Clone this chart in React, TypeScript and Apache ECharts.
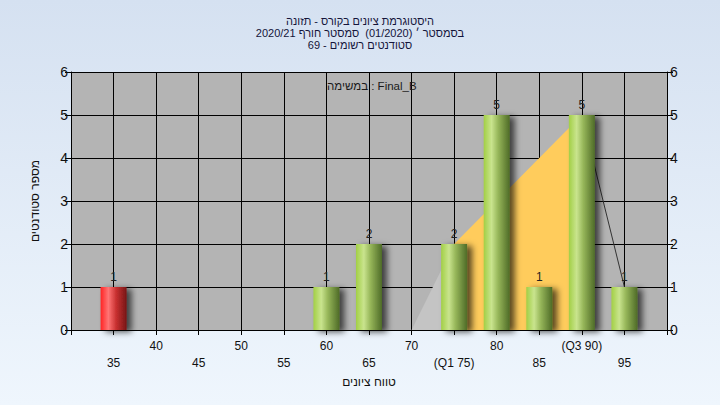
import React, { useEffect, useRef } from "react";
import * as echarts from "echarts";

const titleLines = [
  "היסטוגרמת ציונים בקורס - תזונה",
  "בסמסטר ׳ (01/2020)  סמסטר חורף 2020/21",
  "סטודנטים רשומים - 69",
];
const legendText = "במשימה : Final_B";
const xName = "טווח ציונים";
const yName = "מספר סטודנטים";

const failGrades = [35];
const failCounts = [1];
const passGrades = [60, 65, 75, 80, 85, 90, 95];
const passCounts = [1, 2, 2, 5, 1, 5, 1];

const lowTail = [[70, 0], [75, 2]];
const quartileBand = [[75, 2], [90, 5]];
const highTail = [[90, 5], [95, 1]];

const tickLabels: Record<number, string> = { 75: "(Q1 75)", 90: "(Q3 90)" };

const FONT = "'Liberation Sans Narrow', 'Arial Narrow', 'Liberation Sans', sans-serif";

export default function App() {
  const ref = useRef<HTMLDivElement>(null);
  useEffect(() => {
    document.body.style.margin = "0";
    const chart = echarts.init(ref.current!, null, { renderer: "svg" });
    const green = new echarts.graphic.LinearGradient(0, 0, 1, 0, [
      { offset: 0, color: "#a2cf45" },
      { offset: 0.3, color: "#c9e48e" },
      { offset: 0.55, color: "#97b75a" },
      { offset: 1, color: "#4e6b27" },
    ]);
    const red = new echarts.graphic.LinearGradient(0, 0, 1, 0, [
      { offset: 0, color: "#ff2424" },
      { offset: 0.3, color: "#ff7575" },
      { offset: 0.6, color: "#c83030" },
      { offset: 1, color: "#761515" },
    ]);
    const barData = [
      ...failGrades.map((g, i) => ({ value: [g, failCounts[i]], itemStyle: { color: red } })),
      ...passGrades.map((g, i) => ({ value: [g, passCounts[i]], itemStyle: { color: green } })),
    ];
    const yAxisBase = {
      type: "value",
      min: 0,
      max: 6,
      interval: 1,
      axisLine: { show: true, lineStyle: { color: "#000", width: 1 } },
      axisTick: { show: true, length: 6, lineStyle: { color: "#000" } },
      axisLabel: { color: "#111", fontSize: 14, fontFamily: FONT, margin: 3 },
    };
    chart.setOption({
      animation: false,
      backgroundColor: new echarts.graphic.LinearGradient(0, 0, 0, 1, [
        { offset: 0, color: "#d5e1f1" },
        { offset: 1, color: "#eff6fd" },
      ]),
      textStyle: { fontFamily: FONT },
      title: {
        text: titleLines.join("\n"),
        left: "center",
        top: 10,
        textStyle: { fontSize: 11, lineHeight: 12, fontWeight: "normal", color: "#14143a", fontFamily: FONT },
      },
      grid: { left: 71, right: 53, top: 72, bottom: 75, show: true, backgroundColor: "#b4b4b4", borderWidth: 0 },
      xAxis: {
        type: "value",
        min: 30,
        max: 100,
        interval: 5,
        name: xName,
        nameLocation: "middle",
        nameGap: 44,
        nameTextStyle: { fontSize: 12, color: "#111", fontFamily: FONT },
        axisLine: { show: true, lineStyle: { color: "#000", width: 1 } },
        axisTick: { show: true, length: 5, lineStyle: { color: "#000" } },
        splitLine: { show: true, lineStyle: { color: "#000", width: 1 } },
        axisLabel: {
          color: "#111",
          fontSize: 12,
          lineHeight: 17,
          fontFamily: FONT,
          margin: 7,
          formatter: (v: number) => {
            if (v <= 30 || v >= 100) return "";
            const t = tickLabels[v] ?? String(v);
            return (v / 5) % 2 === 1 ? "\n" + t : t;
          },
        },
      },
      yAxis: [
        {
          ...yAxisBase,
          position: "left",
          name: yName,
          nameLocation: "middle",
          nameRotate: 90,
          nameGap: 30,
          nameTextStyle: { fontSize: 12, color: "#111", fontFamily: FONT },
          splitLine: { show: true, lineStyle: { color: "#000", width: 1 } },
        },
        { ...yAxisBase, position: "right", splitLine: { show: false } },
      ],
      graphic: [
        {
          type: "text",
          left: 327,
          top: 80,
          style: { text: legendText, fontSize: 11.5, fill: "#1a1a1a", fontFamily: FONT },
          z: 100,
        },
      ],
      series: [
        {
          type: "line",
          data: lowTail,
          symbol: "none",
          lineStyle: { width: 0 },
          areaStyle: { color: "#c4c4c4", opacity: 1 },
          z: 1,
        },
        {
          type: "line",
          data: quartileBand,
          symbol: "none",
          lineStyle: { width: 0 },
          areaStyle: { color: "#ffcc5c", opacity: 1 },
          z: 1,
        },
        {
          type: "line",
          data: highTail,
          symbol: "none",
          lineStyle: { width: 1, color: "#333" },
          z: 1,
        },
        {
          type: "bar",
          data: barData,
          barWidth: 26,
          z: 3,
          itemStyle: {
            shadowColor: "rgba(0,0,0,0.65)",
            shadowBlur: 6,
            shadowOffsetX: 5,
            shadowOffsetY: 2,
          },
          label: {
            show: true,
            position: "top",
            distance: 4,
            fontSize: 12,
            color: "#222",
            textBorderWidth: 0,
            textShadowBlur: 0,
            fontFamily: FONT,
            formatter: (p: any) => String(p.value[1]),
          },
        },
      ],
    });
    return () => chart.dispose();
  }, []);
  return <div ref={ref} style={{ width: 720, height: 405 }} />;
}
